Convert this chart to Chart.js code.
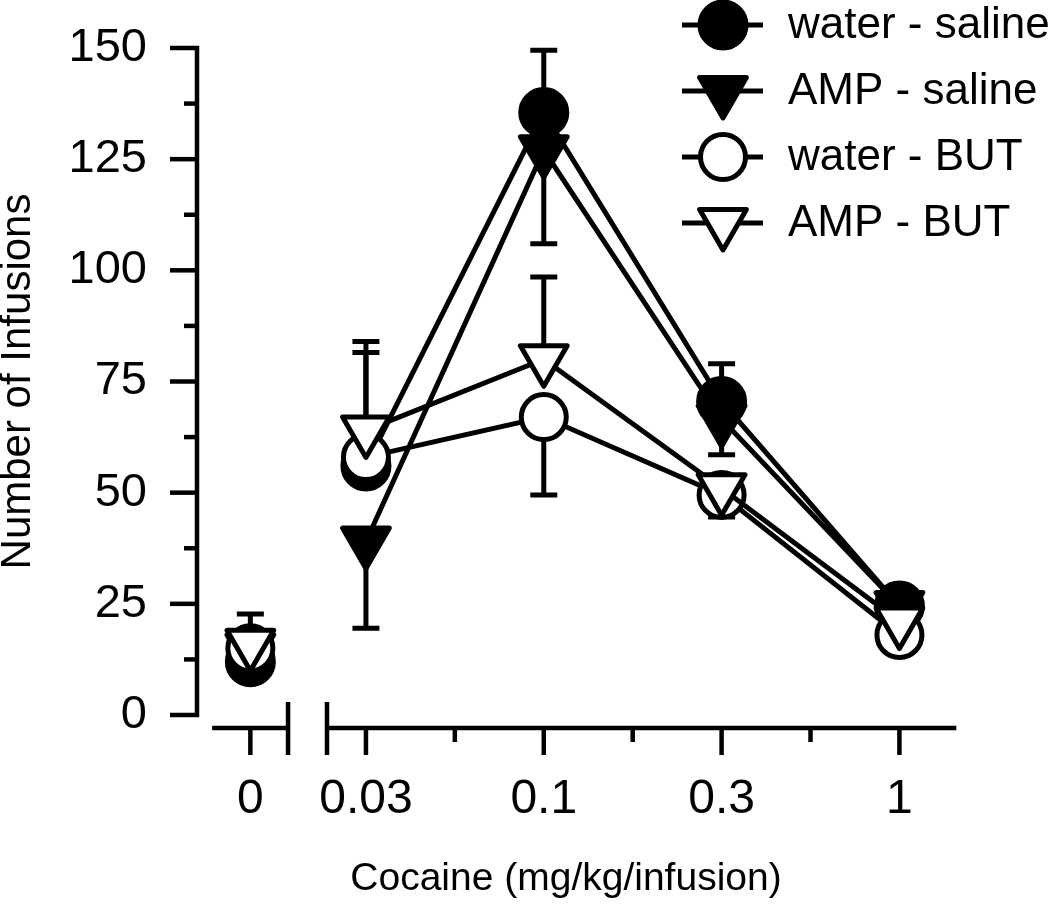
<!DOCTYPE html>
<html>
<head>
<meta charset="utf-8">
<title>Cocaine self-administration</title>
<script src="https://cdn.jsdelivr.net/npm/chart.js@4.4.1/dist/chart.umd.min.js"></script>
<style>
  html, body { margin: 0; padding: 0; background: #fff; }
  #wrap { width: 1050px; height: 912px; }
</style>
</head>
<body>
<div id="wrap"><canvas id="chart" width="1050" height="912"></canvas></div>
<script>
// Cocaine dose categories (mg/kg/infusion)
const doseLabels = ['0', '0.03', '0.1', '0.3', '1'];

// Mean number of infusions per group
const waterSaline = [12, 56, 135.5, 70.5, 24.5];
const ampSaline   = [15, 39, 127, 66.5, 24.5];
const waterBut    = [15, 58, 67, 49.5, 18];
const ampBut      = [16, 64, 80, 51, 21];

// SEM; the sign tells which way the bar is drawn (+ up, - down, 0 = hidden)
const waterSalineErr = [0, 25.5, 14, 8.5, 0];
const ampSalineErr   = [0, -19.5, -21, -8, 0];
const waterButErr    = [0, 0, -17.5, -5, 0];
const ampButErr      = [6.7, 20, 18.5, 0, 0];

const seriesNames = ['water - saline', 'AMP - saline', 'water - BUT', 'AMP - BUT'];

// Axis layout (broken x axis: the 0 dose sits left of the break)
const ZERO_POS = 0.35;
const FONT = "'Liberation Sans', Arial, Helvetica, sans-serif";
const LW = 5;

function xPos(i) {
  return i === 0 ? ZERO_POS : i;
}

function toPoints(values) {
  return values.map((v, i) => ({ x: xPos(i), y: v }));
}

function makeDataset(label, values, style, order) {
  return {
    label,
    data: toPoints(values),
    order,
    borderColor: '#000',
    borderWidth: LW,
    pointStyle: style.shape,
    pointRadius: style.radius,
    pointRotation: style.rotation,
    pointBackgroundColor: style.fill,
    pointBorderColor: '#000',
    pointBorderWidth: LW,
    clip: false,
    // no line between the 0 dose and the rest
    segment: {
      borderColor: c => c.p0DataIndex === 0 ? 'rgba(0,0,0,0)' : undefined
    }
  };
}

const errorLists = [waterSalineErr, ampSalineErr, waterButErr, ampButErr];

// Error bars, drawn just under each dataset's own markers
const errorBarPlugin = {
  id: 'errorBars',
  beforeDatasetDraw(chart, args) {
    const { ctx, scales: { y } } = chart;
    const errs = errorLists[args.index];
    const values = chart.data.datasets[args.index].data;
    ctx.save();
    ctx.strokeStyle = '#000';
    ctx.lineWidth = LW;
    args.meta.data.forEach((pt, i) => {
      const e = errs[i];
      if (!e) return;
      const yEnd = y.getPixelForValue(values[i].y + e);
      ctx.beginPath();
      ctx.moveTo(pt.x, pt.y);
      ctx.lineTo(pt.x, yEnd);
      ctx.moveTo(pt.x - 13.5, yEnd);
      ctx.lineTo(pt.x + 13.5, yEnd);
      ctx.stroke();
    });
    ctx.restore();
    ctx.lineJoin = 'round';
  }
};

// Axis lines, ticks and the axis break
const axesPlugin = {
  id: 'axesDraw',
  beforeDatasetsDraw(chart) {
    const { ctx, chartArea, scales: { x, y } } = chart;
    const x0 = chartArea.left;
    const yZero = y.getPixelForValue(0);
    const yb = yZero + 13;
    ctx.save();
    ctx.strokeStyle = '#000';
    ctx.lineWidth = 4.5;
    ctx.lineCap = 'butt';
    const seg = (a, b, c, d) => {
      ctx.beginPath();
      ctx.moveTo(a, b);
      ctx.lineTo(c, d);
      ctx.stroke();
    };

    // y axis
    seg(x0, y.getPixelForValue(150) - 2, x0, yZero + 2);
    for (let v = 0; v <= 150; v += 12.5) {
      const len = v % 25 === 0 ? 27 : 13;
      const py = y.getPixelForValue(v);
      seg(x0 - len, py, x0 + 2, py);
    }

    // x axis, two pieces
    const px = u => x.getPixelForValue(u);
    seg(px(0.135), yb, px(0.562), yb);
    seg(px(0.781), yb, px(4.32), yb);
    seg(px(0.562), yb - 26, px(0.562), yb + 27);
    seg(px(0.781), yb - 26, px(0.781), yb + 27);
    doseLabels.forEach((_, i) => seg(px(xPos(i)), yb, px(xPos(i)), yb + 27));
    [1.5, 2.5, 3.5].forEach(u => seg(px(u), yb, px(u), yb + 14));
    ctx.restore();
  }
};

// Legend in the top right corner
const legendPlugin = {
  id: 'cornerLegend',
  afterDraw(chart) {
    const { ctx } = chart;
    ctx.save();
    chart.data.datasets.forEach((ds, i) => {
      const cy = 25 + i * 66;
      ctx.strokeStyle = '#000';
      ctx.lineWidth = LW;
      ctx.beginPath();
      ctx.moveTo(682, cy);
      ctx.lineTo(763, cy);
      ctx.stroke();
      ctx.fillStyle = ds.pointBackgroundColor;
      ctx.lineJoin = 'round';
      Chart.helpers.drawPoint(ctx, {
        pointStyle: ds.pointStyle,
        radius: ds.pointRadius,
        rotation: ds.pointRotation,
        borderWidth: ds.pointBorderWidth
      }, 723, cy);
      ctx.fillStyle = '#000';
      ctx.font = '44px ' + FONT;
      ctx.textAlign = 'left';
      ctx.textBaseline = 'middle';
      ctx.fillText(seriesNames[i], 788, cy + 1);
    });
    ctx.restore();
  }
};

const filledCircle = { shape: 'circle', radius: 23, rotation: 0, fill: '#000' };
const filledTri    = { shape: 'triangle', radius: 27, rotation: 180, fill: '#000' };
const openCircle   = { shape: 'circle', radius: 22.5, rotation: 0, fill: '#fff' };
const openTri      = { shape: 'triangle', radius: 27, rotation: 180, fill: '#fff' };

new Chart(document.getElementById('chart'), {
  type: 'line',
  data: {
    datasets: [
      makeDataset(seriesNames[0], waterSaline, filledCircle, 3),
      makeDataset(seriesNames[1], ampSaline, filledTri, 2),
      makeDataset(seriesNames[2], waterBut, openCircle, 1),
      makeDataset(seriesNames[3], ampBut, openTri, 0)
    ]
  },
  options: {
    responsive: false,
    animation: false,
    events: [],
    layout: { padding: { top: 48, right: 115, bottom: 0, left: 0 } },
    plugins: {
      legend: { display: false },
      tooltip: { enabled: false }
    },
    scales: {
      x: {
        type: 'linear',
        min: 0.05,
        max: 4.2,
        grid: { display: false, drawTicks: false },
        border: { display: false },
        afterBuildTicks: s => { s.ticks = doseLabels.map((_, i) => ({ value: xPos(i) })); },
        afterFit: s => { s.height = 197; },
        ticks: {
          autoSkip: false,
          maxRotation: 0,
          padding: 56,
          color: '#000',
          font: { family: FONT, size: 48 },
          callback: (v, i) => doseLabels[i]
        },
        title: {
          display: true,
          text: 'Cocaine (mg/kg/infusion)',
          color: '#000',
          font: { family: FONT, size: 39 },
          padding: { top: 0, bottom: 9 }
        }
      },
      y: {
        min: 0,
        max: 150,
        grid: { display: false, drawTicks: false },
        border: { display: false },
        afterFit: s => {
          s.width = 197;
          s.paddingTop = 0;
          s.paddingBottom = 0;
        },
        ticks: {
          stepSize: 25,
          padding: 50,
          color: '#000',
          font: { family: FONT, size: 47 }
        },
        title: {
          display: true,
          text: 'Number of Infusions',
          color: '#000',
          font: { family: FONT, size: 42, lineHeight: 0.86 },
          padding: { top: 0, bottom: 0 }
        }
      }
    }
  },
  plugins: [errorBarPlugin, axesPlugin, legendPlugin]
});
</script>
</body>
</html>
